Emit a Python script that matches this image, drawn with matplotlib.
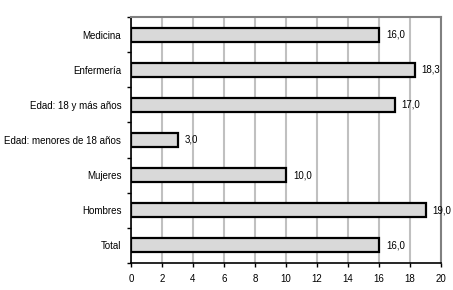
import matplotlib.pyplot as plt
import numpy as np

categories = ["Medicina", "Enfermería", "Edad: 18 y más años",
              "Edad: menores de 18 años", "Mujeres", "Hombres", "Total"]
values = [16.0, 18.3, 17.0, 3.0, 10.0, 19.0, 16.0]
xticks = [0, 2, 4, 6, 8, 10, 12, 14, 16, 18, 20]

plt.rcParams["font.family"] = ["Liberation Sans", "DejaVu Sans"]

fig = plt.figure(figsize=(4.53, 2.90), dpi=100)
ax = fig.add_axes([131 / 453, 27 / 290, 310 / 453, 246 / 290])

y = np.arange(len(categories))
ax.barh(y, values, height=0.4, color="#d9d9d9", edgecolor="black",
        linewidth=1.6, zorder=3)

for yi, v in zip(y, values):
    ax.annotate(f"{v:.1f}".replace(".", ","), (v, yi), xytext=(5, 0),
                textcoords="offset points", va="center", ha="left", fontsize=7)

ax.set_xlim(0, 20)
ax.set_ylim(len(categories) - 0.5, -0.5)
ax.set_xticks(xticks)
ax.set_xticklabels([str(t) for t in xticks], fontsize=7)

# category labels between boundary tick marks
ax.set_yticks(np.arange(len(categories) + 1) - 0.5)
ax.set_yticklabels([])
ax.set_yticks(y, minor=True)
ax.set_yticklabels(categories, minor=True, fontsize=7)
ax.tick_params(axis="y", which="minor", length=0, pad=7)
ax.tick_params(axis="y", which="major", length=3, width=1, direction="out")
ax.tick_params(axis="x", length=3, width=1, direction="out", pad=5)

ax.grid(axis="x", color="#c0c0c0", linewidth=1.5, zorder=0)
ax.set_axisbelow(True)

ax.spines["left"].set_linewidth(1.2)
ax.spines["bottom"].set_linewidth(1.2)
ax.spines["top"].set_color("#808080")
ax.spines["right"].set_color("#808080")
ax.spines["top"].set_linewidth(1.5)
ax.spines["right"].set_linewidth(1.5)

fig.savefig("out.png", dpi=100)
